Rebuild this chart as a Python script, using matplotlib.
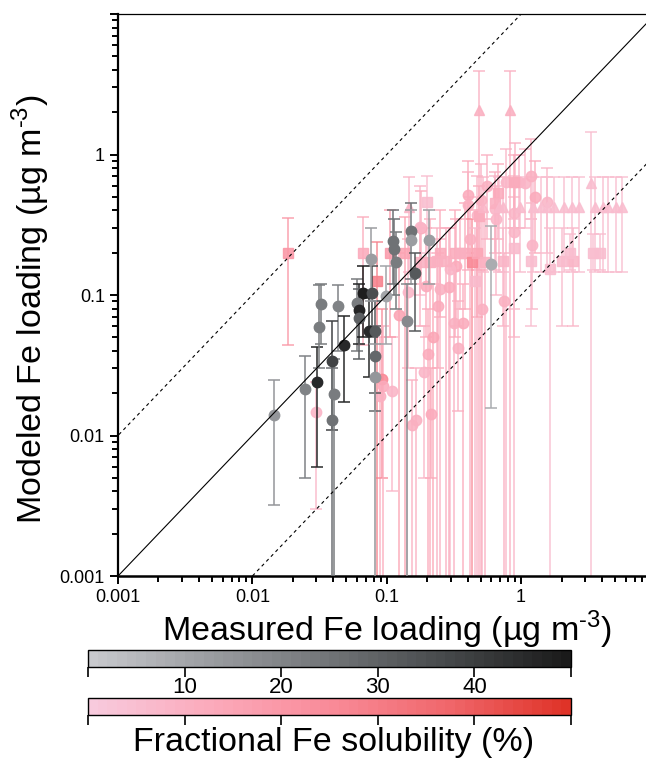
"""
Modeled vs measured Fe loading, coloured by fractional Fe solubility
"""

import numpy as np
import matplotlib

matplotlib.use("Agg")
import matplotlib.pyplot as plt
from matplotlib.colors import LinearSegmentedColormap, Normalize
from matplotlib.cm import ScalarMappable

plt.rcParams["font.family"] = ["Liberation Sans", "DejaVu Sans"]
plt.rcParams["mathtext.fontset"] = "custom"
plt.rcParams["mathtext.rm"] = "Liberation Sans"

# --- gray series (x, y, lower, upper, solubility %) ---
gray_x = [0.0145, 0.0245, 0.0302, 0.0312, 0.0323, 0.0432, 0.039, 0.0403, 0.039, 0.0479,
          0.0598, 0.0619, 0.0619, 0.0663, 0.0773, 0.0735, 0.0815, 0.0815, 0.0815, 0.0984,
          0.076, 0.111, 0.113, 0.117, 0.151, 0.151, 0.205, 0.161, 0.141, 0.593]
gray_y = [0.0141, 0.0213, 0.0239, 0.059, 0.0863, 0.083, 0.0338, 0.0196, 0.013, 0.044,
          0.0877, 0.078, 0.0685, 0.103, 0.103, 0.0553, 0.0553, 0.0367, 0.026, 0.098,
          0.181, 0.243, 0.213, 0.172, 0.286, 0.247, 0.247, 0.144, 0.065, 0.166]
gray_lo = [0.0032, 0.005, 0.006, 0.03, 0.045, 0.04, 0.011, 0.0003, 0.0003, 0.0172,
           0.04, 0.045, 0.035, 0.05, 0.05, 0.026, 0.02, 0.015, 0.0003, 0.045,
           0.09, 0.12, 0.1, 0.08, 0.13, 0.12, 0.12, 0.055, 0.0003, 0.0156]
gray_hi = [0.025, 0.037, 0.043, 0.118, 0.12, 0.118, 0.065, 0.035, 0.03, 0.0708,
           0.13, 0.12, 0.11, 0.16, 0.16, 0.095, 0.09, 0.06, 0.045, 0.16,
           0.3, 0.4, 0.35, 0.28, 0.45, 0.4, 0.4, 0.2, 0.12, 0.311]
gray_sol = [14, 20, 45, 22, 22, 20, 38, 22, 25, 45,
            22, 46, 30, 48, 35, 45, 32, 28, 14, 10,
            12, 25, 25, 22, 25, 12, 12, 32, 18, 8]

# --- pink series ---
pink_x = [
    # circles
    0.0297, 0.0887, 0.0918, 0.0933, 0.109, 0.123, 0.143, 0.153, 0.164, 0.180,
    0.188, 0.195, 0.202, 0.213, 0.220, 0.240, 0.248, 0.289, 0.315, 0.337,
    0.367, 0.325, 0.294, 0.40, 0.40, 0.50, 0.554, 0.467, 0.414, 0.176,
    0.635, 0.645, 0.767, 0.90, 0.958, 1.06, 1.18, 1.26, 1.55, 1.21,
    0.88, 0.88, 0.74, 0.508,
    # squares
    0.0184, 0.0663, 0.0845, 0.105, 0.136, 0.176, 0.209, 0.248, 0.320, 0.380,
    0.429, 0.467, 0.535, 0.199, 0.483, 0.668, 0.89, 0.635, 0.88, 1.19,
    2.0, 2.42, 3.4, 3.84, 2.30, 0.728, 0.236, 0.275, 0.349, 0.451, 1.65,
    # triangles
    0.483, 0.82, 3.3, 0.146, 0.517, 0.68, 0.728, 0.975, 1.22, 1.40,
    1.57, 1.75, 2.10, 2.38, 2.68, 3.52, 4.04, 4.47, 5.05, 5.59,
]
pink_y = [
    0.0146, 0.019, 0.0251, 0.0224, 0.0206, 0.072, 0.105, 0.0118, 0.013, 0.301,
    0.0282, 0.116, 0.0379, 0.0143, 0.050, 0.0834, 0.110, 0.114, 0.063, 0.042,
    0.063, 0.161, 0.154, 0.518, 0.44, 0.477, 0.601, 0.373, 0.251, 0.306,
    0.411, 0.349, 0.641, 0.641, 0.641, 0.63, 0.708, 0.50, 0.462, 0.228,
    0.385, 0.282, 0.0906, 0.0794,
    0.2, 0.2, 0.126, 0.2, 0.2, 0.172, 0.172, 0.2, 0.2, 0.2,
    0.172, 0.2, 0.172, 0.462, 0.367, 0.535, 0.641, 0.455, 0.216, 0.175,
    0.175, 0.175, 0.2, 0.2, 0.2, 0.175, 0.175, 0.175, 0.2, 0.126, 0.154,
    2.06, 2.06, 0.63, 0.425, 0.425, 0.425, 0.425, 0.425, 0.425, 0.425,
    0.425, 0.425, 0.425, 0.425, 0.425, 0.425, 0.425, 0.425, 0.425, 0.425,
]
pink_lo = [
    0.003, 0.0003, 0.005, 0.0004, 0.004, 0.0003, 0.03, 0.0003, 0.0003, 0.12,
    0.005, 0.05, 0.0003, 0.005, 0.0003, 0.03, 0.0003, 0.0003, 0.0003, 0.015,
    0.0003, 0.06, 0.0003, 0.2, 0.15, 0.0003, 0.25, 0.0003, 0.0003, 0.1,
    0.15, 0.1, 0.0003, 0.3, 0.3, 0.3, 0.35, 0.2, 0.2, 0.08,
    0.0003, 0.05, 0.0003, 0.0003,
    0.044, 0.044, 0.0003, 0.05, 0.0003, 0.06, 0.0003, 0.07, 0.05, 0.08,
    0.0003, 0.07, 0.0003, 0.2, 0.15, 0.25, 0.3, 0.2, 0.08, 0.06,
    0.06, 0.06, 0.15, 0.15, 0.15, 0.06, 0.0003, 0.0003, 0.08, 0.0003, 0.0003,
    0.0003, 0.0003, 0.0003, 0.147, 0.147, 0.147, 0.147, 0.147, 0.147, 0.147,
    0.147, 0.147, 0.147, 0.147, 0.147, 0.147, 0.147, 0.147, 0.147, 0.147,
]
pink_hi = [
    0.024, 0.05, 0.08, 0.06, 0.05, 0.2, 0.25, 0.025, 0.03, 0.55,
    0.06, 0.3, 0.08, 0.03, 0.12, 0.2, 0.25, 0.3, 0.15, 0.09,
    0.12, 0.35, 0.3, 0.9, 0.75, 0.85, 1.0, 0.7, 0.5, 0.6,
    0.7, 0.6, 1.1, 1.2, 1.0, 1.1, 1.3, 0.9, 0.8, 0.45,
    0.7, 0.5, 0.2, 0.15,
    0.355, 0.36, 0.24, 0.4, 0.36, 0.3, 0.35, 0.4, 0.4, 0.45,
    0.35, 0.4, 0.35, 0.708, 0.6, 0.85, 1.0, 0.75, 0.35, 0.35,
    0.3, 0.3, 0.27, 0.27, 0.27, 0.3, 0.3, 0.3, 0.35, 0.3, 0.3,
    3.92, 3.92, 1.44, 0.69, 0.69, 0.69, 0.69, 0.69, 0.69, 0.69,
    0.69, 0.69, 0.69, 0.69, 0.69, 0.69, 0.69, 0.69, 0.69, 0.69,
]
pink_sol = [
    8, 10, 25, 12, 8, 15, 8, 10, 10, 12,
    8, 12, 12, 12, 14, 12, 10, 12, 10, 10,
    12, 12, 8, 12, 10, 10, 10, 8, 10, 8,
    8, 8, 8, 10, 8, 8, 10, 12, 8, 8,
    8, 8, 10, 10,
    20, 12, 28, 18, 15, 10, 12, 12, 12, 12,
    25, 14, 10, 5, 12, 12, 12, 10, 6, 5,
    6, 8, 5, 5, 5, 8, 10, 10, 10, 6, 5,
    10, 10, 5, 8, 8, 6, 6, 6, 5, 5,
    5, 5, 5, 5, 5, 5, 5, 5, 5, 5,
]
pink_mk = ["o"] * 44 + ["s"] * 31 + ["^"] * 20

sol_ticks = [0, 10, 20, 30, 40, 50]
sol_labels = ["", "10", "20", "30", "40", ""]

gray_cmap = LinearSegmentedColormap.from_list(
    "grays", ["#c8c9cd", "#9a9ca0", "#717477", "#45484a", "#1a1a1a"], N=50
)
pink_cmap = LinearSegmentedColormap.from_list(
    "pinks", ["#f8cadd", "#fbaabb", "#f98b99", "#f0676b", "#df3328"], N=50
)
norm = Normalize(0, 50)

# hyphen (U+2010) rather than the mathtext minus, as in the original
unit = "(µg m$^{\u20103}$)"


def main():
    fig = plt.figure(figsize=(6.46, 7.58), dpi=100)
    ax = fig.add_axes([0.1827, 0.2401, 0.8173, 0.7414])

    # pink points
    for x, y, lo, hi, s, m in zip(pink_x, pink_y, pink_lo, pink_hi, pink_sol, pink_mk):
        c = pink_cmap(norm(s))
        ax.errorbar(
            x, y, yerr=[[y - lo], [hi - y]], fmt=m, color=c, ecolor=c, mec=c,
            ms=7 if m != "o" else 7.5, elinewidth=1.1, capsize=4.5,
            capthick=1.1, alpha=0.88, zorder=2,
        )

    # gray points
    for x, y, lo, hi, s in zip(gray_x, gray_y, gray_lo, gray_hi, gray_sol):
        c = gray_cmap(norm(s))
        ax.errorbar(
            x, y, yerr=[[y - lo], [hi - y]], fmt="o", color=c, ecolor=c, mec=c,
            ms=7.5, elinewidth=1.1, capsize=4.5, capthick=1.1, zorder=3,
        )

    line = np.array([1e-4, 100])
    ax.plot(line, line, "k-", lw=0.8, zorder=4)
    ax.plot(line, line * 10, "k--", lw=0.8, dashes=(3, 3), zorder=4)
    ax.plot(line, line / 10, "k--", lw=0.8, dashes=(3, 3), zorder=4)

    ax.set_xscale("log")
    ax.set_yscale("log")
    ax.set_xlim(0.001, 8.5)
    ax.set_ylim(0.001, 10)

    ax.set_xticks([0.001, 0.01, 0.1, 1])
    ax.set_xticklabels(["0.001", "0.01", "0.1", "1"])
    ax.set_yticks([0.001, 0.01, 0.1, 1, 10])
    ax.set_yticklabels(["0.001", "0.01", "0.1", "1", ""])
    ax.xaxis.set_minor_locator(matplotlib.ticker.LogLocator(subs=np.arange(2, 10)))
    ax.yaxis.set_minor_locator(matplotlib.ticker.LogLocator(subs=np.arange(2, 10)))
    ax.xaxis.set_minor_formatter(matplotlib.ticker.NullFormatter())
    ax.yaxis.set_minor_formatter(matplotlib.ticker.NullFormatter())
    ax.tick_params(which="major", length=6, width=1.4, labelsize=13, direction="out")
    ax.tick_params(which="minor", length=4, width=1.4, direction="out")

    ax.spines["right"].set_visible(False)
    ax.spines["left"].set_linewidth(1.6)
    ax.spines["bottom"].set_linewidth(1.8)
    ax.spines["top"].set_linewidth(0.9)

    ax.set_xlabel("Measured Fe loading " + unit, fontsize=24.5, labelpad=0)
    ax.set_ylabel("Modeled Fe loading " + unit, fontsize=24.5)
    ax.yaxis.set_label_coords(-0.125, 0.475)
    ax.xaxis.set_label_coords(0.51, -0.058)

    # colorbars
    cax1 = fig.add_axes([0.1362, 0.1200, 0.7477, 0.0224])
    cb1 = fig.colorbar(ScalarMappable(norm=norm, cmap=gray_cmap), cax=cax1,
                       orientation="horizontal")
    cb1.set_ticks(sol_ticks)
    cb1.set_ticklabels(sol_labels)
    cb1.ax.tick_params(length=7, width=1.2, labelsize=16, pad=0)
    cb1.outline.set_linewidth(1.0)

    cax2 = fig.add_axes([0.1362, 0.0567, 0.7477, 0.0224])
    cb2 = fig.colorbar(ScalarMappable(norm=norm, cmap=pink_cmap), cax=cax2,
                       orientation="horizontal")
    cb2.set_ticks(sol_ticks)
    cb2.set_ticklabels([""] * len(sol_ticks))
    cb2.ax.tick_params(length=7, width=1.2)
    cb2.outline.set_linewidth(1.0)
    fig.text(0.516, 0.021, "Fractional Fe solubility (%)", fontsize=24.5,
             ha="center", va="center")

    fig.savefig("out.png", dpi=100)


if __name__ == "__main__":
    main()
